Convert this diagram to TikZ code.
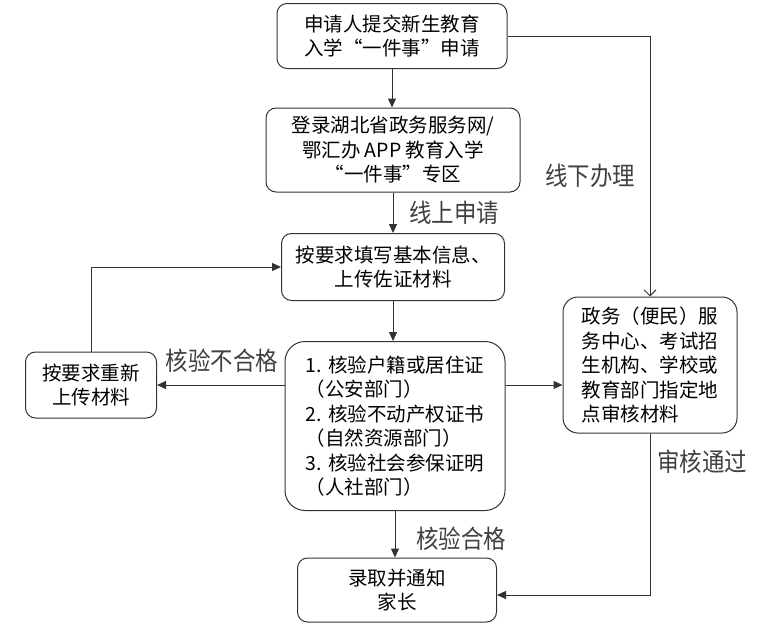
\documentclass[tikz,border=0pt]{standalone}
\usepackage{fontspec}
\setmainfont{Noto Sans CJK SC}
\newfontfamily\lblfont[FakeStretch=0.88]{Noto Sans CJK SC}
\usetikzlibrary{arrows.meta}

\begin{document}
\begin{tikzpicture}[x=1pt,y=-1pt,
    box/.style={draw=black!80,line width=1pt,rounded corners=10pt,inner sep=0pt,
      font=\fontsize{19.5}{24.5}\selectfont,align=center,text=black},
    lbl/.style={font=\lblfont\fontsize{25.5}{26}\selectfont,text=black!75},
    arr/.style={draw=black!80,line width=1pt,-{Triangle[length=9pt,width=8pt]}},
    barb/.style={draw=black!80,line width=1pt,-{Straight Barb[length=6pt,width=12pt]}}]
    \useasboundingbox (0,0) rectangle (771,629);
    \node[box,minimum width=230pt,minimum height=65pt] (apply) at (392,36) {申请人提交新生教育\\入学“一件事”申请};
    \node[box,minimum width=254pt,minimum height=84pt] (portal) at (393,150) {登录湖北省政务服务网/\\鄂汇办 APP 教育入学\\“一件事”专区};
    \node[box,minimum width=223pt,minimum height=67pt] (fill) at (393,267) {按要求填写基本信息、\\上传佐证材料};
    \node[box,minimum width=131pt,minimum height=66pt] (reup) at (91,385) {按要求重新\\上传材料};
    \node[box,rounded corners=20pt,minimum width=220pt,minimum height=169pt,align=left] (check) at (395,426)
      {1. 核验户籍或居住证\\（公安部门）\\2. 核验不动产权证书\\（自然资源部门）\\3. 核验社会参保证明\\（人社部门）};
    \node[box,rounded corners=15pt,minimum width=174pt,minimum height=136pt,align=left] (hall) at (650,365)
      {政务（便民）服\\务中心、考试招\\生机构、学校或\\教育部门指定地\\点审核材料};
    \node[box,minimum width=199pt,minimum height=64pt] (admit) at (397,590) {录取并通知\\家长};

    \draw[arr] (apply.south) -- (apply.south |- portal.north);
    \draw[arr] (portal.south) -- (portal.south |- fill.north);
    \draw[arr] (fill.south) -- (fill.south |- check.north);
    \draw[arr] (check.west |- reup.east) -- (reup.east);
    \draw[arr] (reup.north) |- (fill.west);
    \draw[arr] (check.east |- reup.east) -- (hall.west |- reup.east);
    \draw[barb] (apply.east) -| (hall.north);
    \draw[arr] (check.south) -- (check.south |- admit.north);
    \draw[arr] (hall.south) |- ([yshift=-5pt]admit.east);

    \node[lbl] (online) at (454,213) {线上申请};
    \node[lbl] (offline) at (590,176) {线下办理};
    \node[lbl] (fail) at (222,361) {核验不合格};
    \node[lbl] (pass) at (461,539) {核验合格};
    \node[lbl] (approved) at (702,462) {审核通过};
\end{tikzpicture}
\end{document}
